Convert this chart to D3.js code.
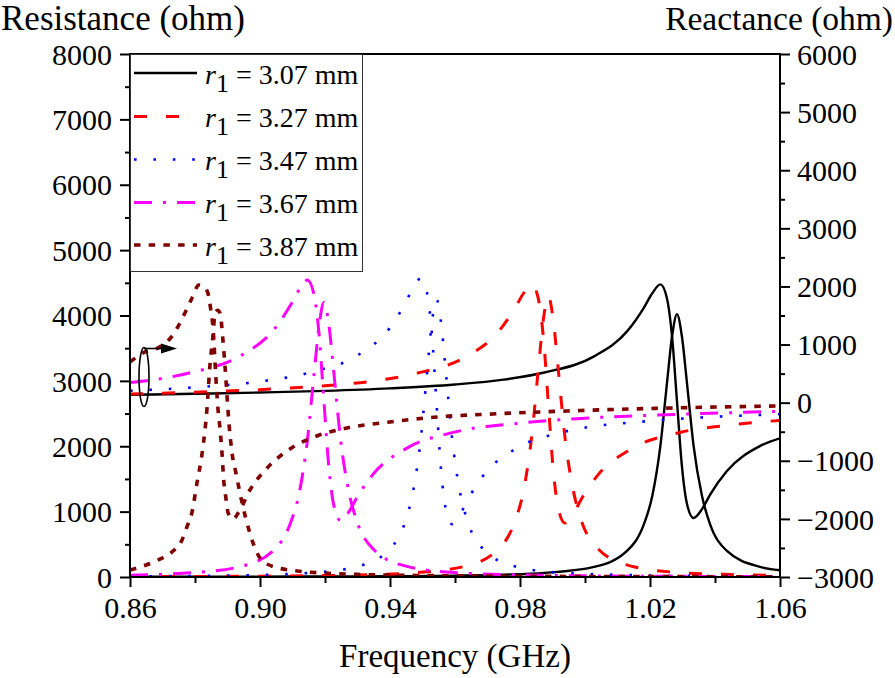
<!DOCTYPE html>
<html>
<head>
<meta charset="utf-8">
<script src="https://cdn.jsdelivr.net/npm/d3@7"></script>
<style>
  body { margin: 0; background: #fff; }
  svg { display: block; }
</style>
</head>
<body>
<svg id="chart" width="895" height="678"></svg>
<script>
// ---- tick values ----
const freqTicks = [0.86, 0.90, 0.94, 0.98, 1.02, 1.06];
const freqMinor = [0.88, 0.92, 0.96, 1.00, 1.04];
const resTicks = [0, 1000, 2000, 3000, 4000, 5000, 6000, 7000, 8000];
const resMinor = [500, 1500, 2500, 3500, 4500, 5500, 6500, 7500];
const reacTicks = [-3000, -2000, -1000, 0, 1000, 2000, 3000, 4000, 5000, 6000];
const reacMinor = [-2500, -1500, -500, 500, 1500, 2500, 3500, 4500, 5500];

// ---- r1 = 3.07 mm ----
const f307 = [0.86, 0.88, 0.90, 0.92, 0.94, 0.96, 0.975, 0.9875, 1.0028, 1.0130, 1.0181, 1.0207, 1.0232, 1.0252, 1.0268, 1.0283, 1.0298, 1.0314, 1.0334, 1.0360, 1.0385, 1.0436, 1.0538, 1.06];
const res307 = [3, 4, 6, 8, 12, 21, 35, 62, 155, 402, 804, 1238, 2010, 2955, 3686, 4020, 3686, 2955, 2010, 1238, 804, 402, 155, 104];
const reac307 = [136, 153, 174, 203, 246, 313, 397, 519, 797, 1231, 1633, 1882, 2035, 1798, 1131, 25, -1081, -1748, -1985, -1832, -1583, -1181, -747, -614];

// ---- r1 = 3.27 mm ----
const f327 = [0.86, 0.88, 0.90, 0.92, 0.935, 0.9479, 0.9632, 0.9734, 0.9785, 0.9811, 0.9836, 0.9856, 0.9872, 0.9887, 0.9902, 0.9918, 0.9938, 0.9964, 0.9989, 1.0040, 1.0142, 1.0295, 1.045, 1.06];
const res327 = [6, 8, 13, 22, 36, 66, 166, 430, 860, 1324, 2150, 3160, 3943, 4300, 3943, 3160, 2150, 1324, 860, 430, 166, 66, 37, 23];
const reac327 = [150, 180, 224, 291, 373, 502, 785, 1224, 1632, 1883, 2040, 1799, 1122, 0, -1139, -1826, -2070, -1911, -1656, -1242, -797, -509, -382, -305];

// ---- r1 = 3.47 mm ----
const f347 = [0.86, 0.88, 0.90, 0.9159, 0.9303, 0.9399, 0.9447, 0.9471, 0.9495, 0.9514, 0.9529, 0.9543, 0.9557, 0.9572, 0.9591, 0.9615, 0.9639, 0.9687, 0.9783, 0.9927, 1.02, 1.04, 1.06];
const res347 = [10, 16, 31, 65, 164, 425, 850, 1308, 2125, 3125, 3897, 4250, 3897, 3125, 2125, 1308, 850, 425, 164, 65, 24, 15, 10];
const reac347 = [206, 264, 365, 526, 824, 1284, 1712, 1975, 2140, 1887, 1177, 0, -1150, -1843, -2090, -1929, -1672, -1254, -805, -514, -314, -243, -199];

// ---- r1 = 3.67 mm ----
const f367 = [0.86, 0.87, 0.8789, 0.8942, 0.9044, 0.9095, 0.9121, 0.9146, 0.9166, 0.9182, 0.9197, 0.9212, 0.9228, 0.9248, 0.9274, 0.9299, 0.9350, 0.9452, 0.9605, 0.98, 1.00, 1.03, 1.06];
const res367 = [28, 41, 65, 162, 420, 840, 1292, 2100, 3088, 3850, 4200, 3850, 3088, 2100, 1292, 840, 420, 162, 65, 32, 18, 10, 6];
const reac367 = [346, 417, 519, 812, 1266, 1688, 1948, 2110, 1861, 1161, 0, -1117, -1790, -2030, -1874, -1624, -1218, -782, -499, -352, -267, -198, -150];

// ---- r1 = 3.87 mm ----
const f387r = [0.86, 0.8686, 0.8729, 0.876, 0.8775, 0.8791, 0.8806, 0.8822, 0.8837, 0.8846, 0.8855, 0.8862, 0.8870, 0.8877, 0.8886, 0.8892, 0.8905, 0.8914, 0.8926, 0.8945, 0.8966, 0.8991, 0.9015, 0.91, 0.93, 0.96, 1.00, 1.06];
const res387 = [107, 260, 382, 566, 765, 994, 1437, 1896, 2584, 3242, 3670, 4050, 4080, 4037, 3624, 3242, 2324, 1896, 1590, 1131, 719, 367, 214, 100, 40, 18, 8, 4];
const f387x = [0.86, 0.8646, 0.8692, 0.8732, 0.8769, 0.8791, 0.8812, 0.8826, 0.8840, 0.8848, 0.8856, 0.8864, 0.8871, 0.8877, 0.8883, 0.8889, 0.8895, 0.8902, 0.8917, 0.8935, 0.8969, 0.9022, 0.9092, 0.9175, 0.9268, 0.94, 0.9545, 0.9717, 0.9945, 1.02, 1.06];
const reac387 = [700, 873, 960, 1165, 1544, 1802, 2026, 2000, 1880, 1620, 1250, 450, -130, -450, -866, -1382, -1640, -1898, -2002, -1880, -1503, -1124, -797, -573, -435, -332, -246, -194, -143, -100, -57];

const seriesLabels = ["3.07", "3.27", "3.47", "3.67", "3.87"];

// ---- styling per series ----
const styles = [
  { color: "#000000", width: 2.4, dash: null },
  { color: "#ff0000", width: 3, dash: "13,19" },
  { color: "#0000ff", width: 2.6, dash: "2.6,16.8" },
  { color: "#ff00ff", width: 3, dash: "18,11,3,11" },
  { color: "#800000", width: 3.6, dash: "6.5,8.2" }
];

const SERIF = '"Liberation Serif"';

const zip = (a, b) => a.map((v, i) => [v, b[i]]);
const resSeries = [zip(f307, res307), zip(f327, res327), zip(f347, res347), zip(f367, res367), zip(f387r, res387)];
const reacSeries = [zip(f307, reac307), zip(f327, reac327), zip(f347, reac347), zip(f367, reac367), zip(f387x, reac387)];

// ---- layout ----
const plotL = 130, plotR = 780, plotT = 54, plotB = 577;
const svg = d3.select("#chart");

const x = d3.scaleLinear().domain([0.86, 1.06]).range([plotL, plotR]);
const yRes = d3.scaleLinear().domain([0, 8000]).range([plotB, plotT]);
const yReac = d3.scaleLinear().domain([-3000, 6000]).range([plotB, plotT]);

svg.append("defs").append("clipPath").attr("id", "plot")
  .append("rect").attr("x", plotL).attr("y", plotT).attr("width", plotR - plotL).attr("height", plotB - plotT);

const curves = svg.append("g").attr("clip-path", "url(#plot)");

const lineRes = d3.line().x(d => x(d[0])).y(d => yRes(d[1])).curve(d3.curveMonotoneX);
const lineReac = d3.line().x(d => x(d[0])).y(d => yReac(d[1])).curve(d3.curveMonotoneX);

styles.forEach((s, i) => {
  [lineReac(reacSeries[i]), lineRes(resSeries[i])].forEach(dPath => {
    curves.append("path")
      .attr("d", dPath)
      .attr("fill", "none")
      .attr("stroke", s.color)
      .attr("stroke-width", s.width)
      .attr("stroke-dasharray", s.dash)
      .attr("stroke-linejoin", "round");
  });
});

// ---- axes ----
function styleAxis(g) {
  g.select(".domain").remove();
  g.selectAll(".tick line").attr("stroke", "#000").attr("stroke-width", 2);
  g.selectAll("text").attr("fill", "#000")
    .style("font-family", SERIF).style("font-size", "30px");
}

svg.append("g").attr("transform", `translate(0,${plotB})`)
  .call(d3.axisBottom(x).tickValues(freqTicks).tickSize(10).tickPadding(10).tickFormat(d3.format(".2f")))
  .call(styleAxis);
svg.append("g").attr("transform", `translate(0,${plotB})`)
  .call(d3.axisBottom(x).tickValues(freqMinor).tickSize(6).tickFormat(""))
  .call(styleAxis);

svg.append("g").attr("transform", `translate(${plotL},0)`)
  .call(d3.axisLeft(yRes).tickValues(resTicks).tickSize(10).tickPadding(8).tickFormat(d3.format("d")))
  .call(styleAxis)
  .selectAll("text").attr("dy", "0.34em");
svg.append("g").attr("transform", `translate(${plotL},0)`)
  .call(d3.axisLeft(yRes).tickValues(resMinor).tickSize(5).tickFormat(""))
  .call(styleAxis);

svg.append("g").attr("transform", `translate(${plotR},0)`)
  .call(d3.axisRight(yReac).tickValues(reacTicks).tickSize(10).tickPadding(7).tickFormat(d3.format("d")))
  .call(styleAxis)
  .selectAll("text").attr("dy", "0.34em");
svg.append("g").attr("transform", `translate(${plotR},0)`)
  .call(d3.axisRight(yReac).tickValues(reacMinor).tickSize(5).tickFormat(""))
  .call(styleAxis);

// plot frame
svg.append("rect")
  .attr("x", plotL).attr("y", plotT).attr("width", plotR - plotL).attr("height", plotB - plotT)
  .attr("fill", "none").attr("stroke", "#000").attr("stroke-width", 2);

// ---- axis titles ----
function title(xp, yp, anchor, size, txt) {
  svg.append("text").attr("x", xp).attr("y", yp).attr("text-anchor", anchor)
    .style("font-family", SERIF).style("font-size", size).text(txt);
}
title(1, 30, "start", "35px", "Resistance (ohm)");
title(893, 30, "end", "33.5px", "Reactance (ohm)");
title((plotL + plotR) / 2, 667, "middle", "33px", "Frequency (GHz)");

// ---- annotation: ellipse marking the reactance curves, arrow to right axis ----
svg.append("ellipse").attr("cx", 144).attr("cy", 377).attr("rx", 5).attr("ry", 29.5)
  .attr("fill", "none").attr("stroke", "#000").attr("stroke-width", 1.6);
svg.append("line").attr("x1", 144).attr("y1", 348.5).attr("x2", 163).attr("y2", 348.5)
  .attr("stroke", "#000").attr("stroke-width", 1.6);
svg.append("path").attr("d", "M161,343.5 L177,348.5 L161,353.5 Z").attr("fill", "#000");

// ---- legend ----
const legend = svg.append("g");
legend.append("rect").attr("x", 130.5).attr("y", 54.5).attr("width", 232).attr("height", 217)
  .attr("fill", "#fff").attr("stroke", "#333").attr("stroke-width", 1);
const rowY = [73, 116.5, 159.5, 202.5, 245];
styles.forEach((s, i) => {
  legend.append("line")
    .attr("x1", 134).attr("x2", 197).attr("y1", rowY[i]).attr("y2", rowY[i])
    .attr("stroke", s.color).attr("stroke-width", s.width).attr("stroke-dasharray", s.dash);
  const t = legend.append("text").attr("x", 205).attr("y", rowY[i] + 10.5)
    .style("font-family", SERIF).style("font-size", "28px");
  t.append("tspan").style("font-style", "italic").text("r");
  t.append("tspan").attr("dy", 8).style("font-size", "26px").text("1");
  t.append("tspan").attr("dy", -8).text(` = ${seriesLabels[i]} mm`);
});
</script>
</body>
</html>
